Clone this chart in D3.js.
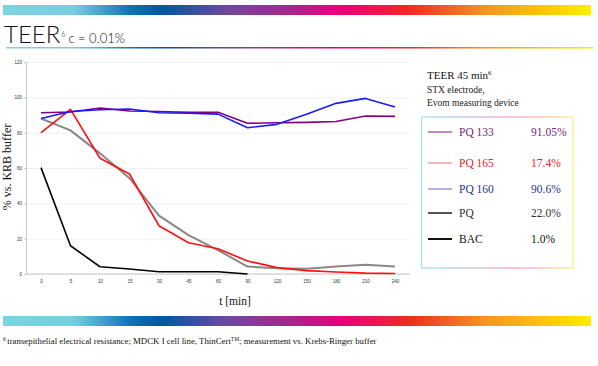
<!DOCTYPE html>
<html><head><meta charset="utf-8">
<script src="https://cdn.jsdelivr.net/npm/d3@7"></script>
<style>body{margin:0;background:#fff}svg{display:block}</style>
</head><body>
<script>
const categories = ["0","5","10","15","30","45","60","90","120","150","180","210","240"];
const pq133 = [91.3,91.7,94,92.3,92,91.5,91.5,85.3,85.6,85.8,86.3,89.4,89.2];
const pq165 = [80,93.2,65.5,56.6,27.3,17.7,14.3,7.4,3.6,1.9,1.1,0.5,0.3];
const pq160 = [88,92,93,93.4,91.3,91,90.5,82.8,84.7,90.4,96.6,99.4,94.5];
const pq    = [88,81.3,68.3,54.2,33,22,13.5,4.2,3.2,3,4.2,5.3,4.2];
const bac   = [60.2,16,4.1,2.8,1.3,1.3,1.3,0,null,null,null,null,null];
const yTicks = [0,20,40,60,80,100,120];
const seriesNames = ["PQ 133","PQ 165","PQ 160","PQ","BAC"];
const legendValues = ["91.05%","17.4%","90.6%","22.0%","1.0%"];

const W=598,H=366;
const svg=d3.select("body").append("svg").attr("width",W).attr("height",H);
const defs=svg.append("defs");
function grad(id,stops){
  const g=defs.append("linearGradient").attr("id",id).attr("x1","0%").attr("x2","100%").attr("y1","0%").attr("y2","0%");
  stops.forEach(s=>g.append("stop").attr("offset",s[0]).attr("stop-color",s[1]));
}
const rainbow=[["0%","#7dd3e0"],["12%","#78cde0"],["22%","#0a72b4"],["27%","#0057a3"],["38%","#6d4a9c"],["48%","#a3288f"],["57%","#e6007e"],["69%","#ee2a24"],["82%","#f7931e"],["100%","#ffed00"]];
grad("rainbow",rainbow);
grad("pale",[["0%","#a9e2ea"],["25%","#b7c5e6"],["45%","#d4b0d8"],["62%","#f4a6c8"],["78%","#f9b7b0"],["100%","#fff08a"]]);

// top & bottom bars
svg.append("rect").attr("x",3).attr("y",5).attr("width",588).attr("height",10).attr("fill","url(#rainbow)");
svg.append("rect").attr("x",3).attr("y",316).attr("width",588).attr("height",10).attr("fill","url(#rainbow)");
svg.append("rect").attr("x",6).attr("y",47).attr("width",587).attr("height",1.5).attr("fill","url(#rainbow)");

// title
const t=svg.append("text").attr("x",4).attr("y",43).attr("font-family","Lato, 'Open Sans', sans-serif").attr("font-weight",300).attr("fill","#111");
t.append("tspan").attr("font-size",24).text("TEER");
t.append("tspan").attr("font-size",7).attr("dy",-6).attr("dx",1).text("6");
t.append("tspan").attr("font-size",13).attr("dy",6).attr("dx",3).text("c = 0.01%");

// scales
const x=d3.scalePoint().domain(categories).range([41,395]);
const y=d3.scaleLinear().domain([0,120]).range([274,62]);
const L=26,R=410;

// grid
svg.append("g").attr("transform",`translate(${L},0)`)
  .call(d3.axisLeft(y).tickValues(yTicks).tickSize(-(R-L)).tickFormat(""))
  .call(g=>{g.select(".domain").remove();g.selectAll("line").attr("stroke","#ececec").attr("stroke-width",0.8);});
// y axis
svg.append("g").attr("transform",`translate(${L},0)`)
  .call(d3.axisLeft(y).tickValues(yTicks).tickSize(2).tickPadding(2))
  .call(g=>{g.select(".domain").attr("stroke","#c8c8c8");g.selectAll("line").attr("stroke","#c8c8c8");
    g.selectAll("text").attr("font-size",4.5).attr("font-family","Arial, 'Liberation Sans', sans-serif").attr("fill","#333");});
// x axis
svg.append("line").attr("x1",L).attr("x2",R).attr("y1",y(0)).attr("y2",y(0)).attr("stroke","#c8c8c8");
svg.append("g").attr("transform",`translate(0,${y(0)})`)
  .call(d3.axisBottom(x).tickSize(0).tickPadding(6))
  .call(g=>{g.select(".domain").remove();
    g.selectAll("text").attr("font-size",4.5).attr("font-family","Arial, 'Liberation Sans', sans-serif").attr("fill","#333");});

// lines
const line=d3.line().defined(d=>d.v!=null).x(d=>x(d.c)).y(d=>y(d.v));
const plot=[[bac,"#000000",1.6],[pq,"#888888",2],[pq165,"#ff1010",1.6],[pq133,"#800080",1.6],[pq160,"#1a1aff",1.6]];
plot.forEach(([vals,col,w])=>{
  svg.append("path").datum(vals.map((v,i)=>({c:categories[i],v})))
    .attr("d",line).attr("fill","none").attr("stroke",col).attr("stroke-width",w).attr("stroke-linejoin","round");
});

// axis titles
svg.append("text").attr("transform","translate(11,167) rotate(-90)").attr("text-anchor","middle")
  .attr("font-family","'Liberation Serif', 'DejaVu Serif', serif").attr("font-size",12).attr("fill","#111").text("% vs. KRB buffer");
svg.append("text").attr("x",235).attr("y",305).attr("text-anchor","middle")
  .attr("font-family","'Liberation Serif', serif").attr("font-size",11.5).attr("fill","#111").text("t [min]");

// legend
const serif="'Liberation Serif', 'DejaVu Serif', serif";
const lt=svg.append("text").attr("x",427).attr("y",79).attr("font-family",serif).attr("font-size",11).attr("fill","#111");
lt.append("tspan").text("TEER 45 min");
lt.append("tspan").attr("font-size",6.5).attr("dy",-4).text("6");
svg.append("text").attr("x",427).attr("y",93).attr("font-family",serif).attr("font-size",9.5).attr("fill","#222").text("STX electrode,");
svg.append("text").attr("x",427).attr("y",106).attr("font-family",serif).attr("font-size",9.5).attr("fill","#222").text("Evom measuring device");
svg.append("rect").attr("x",421.5).attr("y",117).attr("width",151.5).attr("height",151).attr("fill","none").attr("stroke","url(#pale)").attr("stroke-width",1.3);

const legLine=["#7a1a80","#f07070","#6b6bc0","#555555","#111111"];
const legW=[1,1,1,2,2];
const legText=["#7b1e7a","#e3262a","#2e2e8a","#333333","#111111"];
const rowsY=[132,163,189,213,239];
seriesNames.forEach((n,i)=>{
  svg.append("line").attr("x1",428).attr("x2",452).attr("y1",rowsY[i]).attr("y2",rowsY[i]).attr("stroke",legLine[i]).attr("stroke-width",legW[i]);
  svg.append("text").attr("x",459).attr("y",rowsY[i]+4).attr("font-family",serif).attr("font-size",11.5).attr("fill",legText[i]).text(n);
  svg.append("text").attr("x",531).attr("y",rowsY[i]+4).attr("font-family",serif).attr("font-size",11.5).attr("fill",legText[i]).text(legendValues[i]);
});

// footnote
const fn=svg.append("text").attr("x",3).attr("y",344).attr("font-family",serif).attr("font-size",8.8).attr("fill","#111");
fn.append("tspan").attr("font-size",5.5).attr("dy",-3).text("6");
fn.append("tspan").attr("dy",3).attr("dx",1.5).text("transepithelial electrical resistance; MDCK I cell line, ThinCert");
fn.append("tspan").attr("font-size",5.5).attr("dy",-3).text("TM");
fn.append("tspan").attr("dy",3).text("; measurement vs. Krebs-Ringer buffer");
</script>
</body></html>
